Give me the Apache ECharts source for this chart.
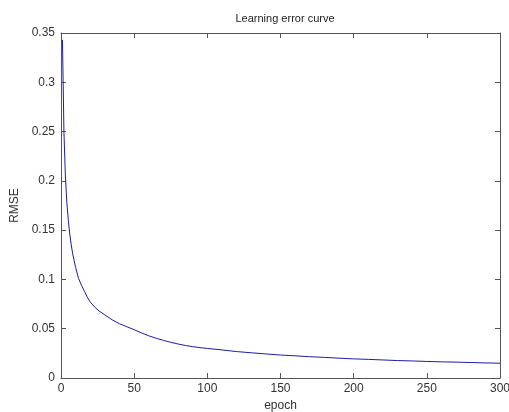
<!DOCTYPE html>
<html>
<head>
<meta charset="utf-8">
<script src="https://cdn.jsdelivr.net/npm/echarts@6/dist/echarts.min.js"></script>
<style>
  html, body { margin: 0; padding: 0; background: #fff; }
  #chart { width: 509px; height: 412px; }
</style>
</head>
<body>
<div id="chart"></div>
<script>
var epochs = [1, 2, 3, 4, 5, 6, 7, 8, 9, 10, 12, 14, 16, 18, 20, 23, 26, 30, 35, 40,
  45, 50, 55, 60, 65, 70, 75, 80, 85, 90, 95, 100, 110, 120, 130, 140, 150, 160,
  170, 180, 190, 200, 210, 220, 230, 240, 250, 260, 270, 280, 290, 300];
var rmse = [0.343, 0.25, 0.205, 0.178, 0.16, 0.146, 0.135, 0.126, 0.119, 0.112,
  0.101, 0.094, 0.088, 0.082, 0.077, 0.072, 0.068, 0.064, 0.059, 0.055,
  0.052, 0.049, 0.0457, 0.0428, 0.0403, 0.0382, 0.0362, 0.0345, 0.033, 0.0318, 0.0308,
  0.030, 0.0285, 0.0268, 0.0256, 0.0244, 0.0233, 0.0225, 0.0216, 0.0209, 0.0201,
  0.0194, 0.0189, 0.0183, 0.0177, 0.0173, 0.0168, 0.0164, 0.0161, 0.0157, 0.0153, 0.0150];
var xTicks = { min: 0, max: 300, interval: 50 };
var yTicks = { min: 0, max: 0.35, interval: 0.05 };

var axisColor = "#555";
var font = "Liberation Sans, Arial, sans-serif";

function xAx(pos, labels) {
  return {
    type: "value",
    position: pos,
    min: xTicks.min,
    max: xTicks.max,
    interval: xTicks.interval,
    name: labels ? "epoch" : "",
    nameLocation: "middle",
    nameGap: 14,
    nameTextStyle: { color: "#333", fontSize: 12, fontFamily: font },
    axisLine: { show: true, onZero: false, lineStyle: { color: axisColor, width: 1 } },
    axisTick: { show: true, inside: true, length: 5, lineStyle: { color: axisColor } },
    axisLabel: { show: labels, color: "#333", fontSize: 12, fontFamily: font, margin: 5 },
    splitLine: { show: false },
  };
}

function yAx(pos, labels) {
  return {
    type: "value",
    position: pos,
    min: yTicks.min,
    max: yTicks.max,
    interval: yTicks.interval,
    name: labels ? "RMSE" : "",
    nameLocation: "middle",
    nameGap: 40,
    nameTextStyle: { color: "#333", fontSize: 12, fontFamily: font },
    axisLine: { show: true, onZero: false, lineStyle: { color: axisColor, width: 1 } },
    axisTick: { show: true, inside: true, length: 5, lineStyle: { color: axisColor } },
    axisLabel: { show: labels, color: "#333", fontSize: 12, fontFamily: font, margin: 6 },
    splitLine: { show: false },
  };
}

var chart = echarts.init(document.getElementById("chart"));
chart.setOption({
  animation: false,
  backgroundColor: "#fff",
  title: {
    text: "Learning error curve",
    left: 280,
    textAlign: "center",
    top: 8,
    textStyle: { color: "#222", fontSize: 11, fontWeight: "normal", fontFamily: font },
  },
  grid: { left: 61, right: 9, top: 33, bottom: 34, containLabel: false, outerBoundsMode: "none" },
  xAxis: [xAx("bottom", true), xAx("top", false)],
  yAxis: [yAx("left", true), yAx("right", false)],
  series: [
    {
      type: "line",
      data: epochs.map(function (e, i) { return [e, rmse[i]]; }),
      showSymbol: false,
      lineStyle: { color: "#1c1ca8", width: 1 },
    },
  ],
});
</script>
</body>
</html>
